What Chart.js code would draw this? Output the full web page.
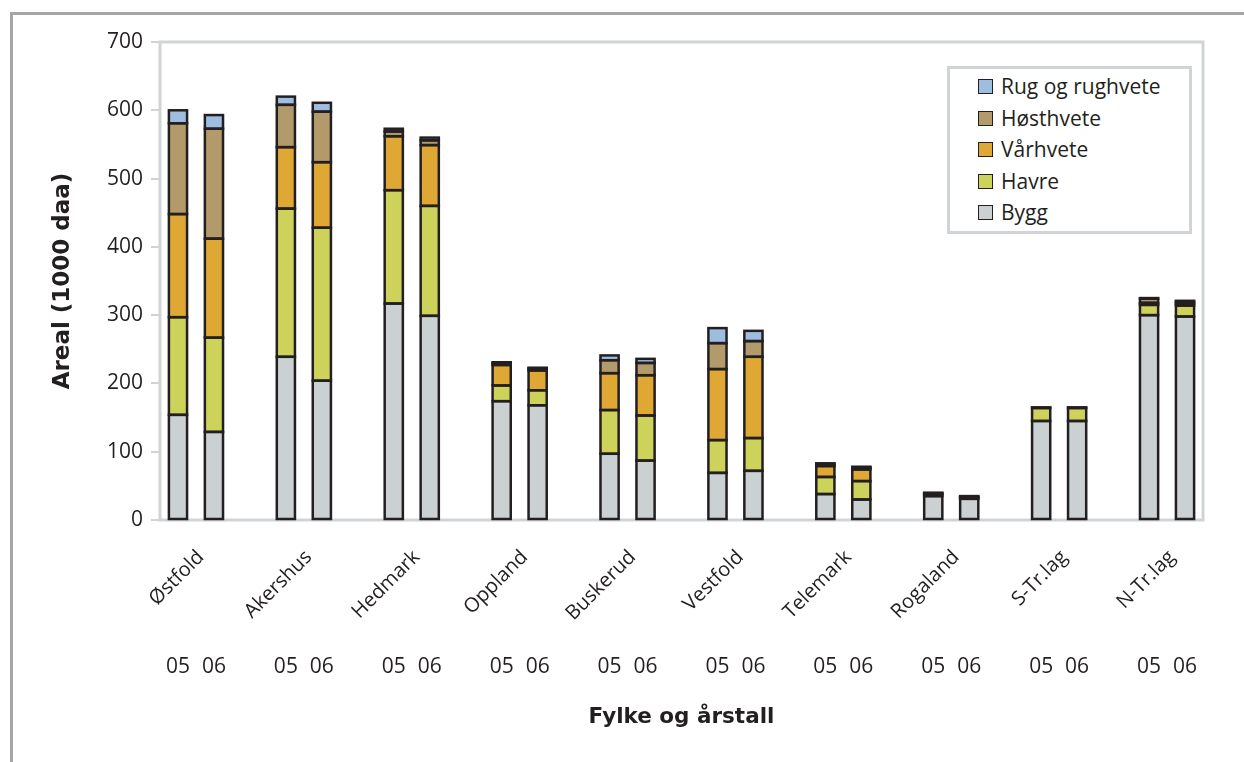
<!DOCTYPE html>
<html lang="no">
<head>
<meta charset="utf-8">
<title>Areal korn per fylke 2005 og 2006</title>
<script src="https://cdn.jsdelivr.net/npm/chart.js@4.4.1/dist/chart.umd.min.js"></script>
<style>
  html, body { margin: 0; padding: 0; background: #ffffff; }
  body { width: 1244px; height: 762px; position: relative; overflow: hidden; font-family: "Open Sans", sans-serif; color: #231f20; }
  #frame { position: absolute; left: 10px; top: 12px; width: 1300px; height: 800px; border: 3px solid #a6a6a6; box-sizing: border-box; }
  #chart { position: absolute; left: 0; top: 0; }
  #legend { position: absolute; left: 947px; top: 66px; width: 245px; height: 168px; border: 3px solid #d0d4d7; box-sizing: border-box; background: #ffffff; padding-top: 2px; }
  .item { height: 31.5px; display: flex; align-items: center; padding-left: 28px; font-size: 21px; line-height: 1; white-space: nowrap; }
  .swatch { width: 15px; height: 15px; box-sizing: border-box; border: 1.5px solid #231f20; margin-right: 8px; flex: none; }
</style>
</head>
<body>
<div id="frame"></div>
<canvas id="chart" width="1244" height="762"></canvas>
<div id="legend"></div>
<script>
// Fylker og årstall (to søyler per fylke)
const counties = ['Østfold', 'Akershus', 'Hedmark', 'Oppland', 'Buskerud', 'Vestfold', 'Telemark', 'Rogaland', 'S-Tr.lag', 'N-Tr.lag'];
const years = ['05', '06'];

// Areal i 1000 daa, parvis per fylke: 2005, 2006
const bygg      = [154, 129, 239, 204, 317, 299, 174, 168,  97,  87,  69,  72,  38,  30,  35,  31, 145, 145, 300, 298];
const havre     = [143, 138, 217, 224, 166, 161,  23,  22,  64,  66,  48,  48,  25,  27,   3,   2,  19,  19,  15,  16];
const varhvete  = [151, 145,  90,  96,  79,  89,  30,  29,  54,  59, 104, 119,  16,  17,   1,   1,   1,   1,   3,   3];
const hosthvete = [133, 161,  62,  74,   7,   7,   3,   3,  19,  18,  38,  23,   3,   3,   1,   1,   0,   0,   6,   3];
const rug       = [ 19,  20,  12,  13,   4,   4,   1,   1,   7,   6,  22,  15,   1,   1,   0,   0,   0,   0,   1,   1];

const yTicks = [0, 100, 200, 300, 400, 500, 600, 700];

const seriesNames  = ['Bygg', 'Havre', 'Vårhvete', 'Høsthvete', 'Rug og rughvete'];
const seriesValues = [bygg, havre, varhvete, hosthvete, rug];
const seriesColors = ['#cbd0d3', '#cdd25a', '#dfa834', '#b39a6b', '#9dbde1'];

const TEXT = '#231f20';
const LINE = '#d0d4d7';
const LABEL_FONT = '20px "Open Sans"';

// Årstallet står under fylkesnavnet: tomme linjer over gir plass til navnet
const yearLabel = y => ['', '', '', '', '', y];

// Kategoriakse: 05, 06 og en tom plass mellom hvert fylke
const labels = [];
counties.forEach((c, i) => {
  years.forEach(y => labels.push(yearLabel(y)));
  if (i < counties.length - 1) labels.push('');
});
const groupSize = years.length + 1;

function spread(values) {
  const out = [];
  counties.forEach((c, i) => {
    years.forEach((y, j) => out.push(values[i * years.length + j]));
    if (i < counties.length - 1) out.push(null);
  });
  return out;
}

const datasets = seriesNames.map((name, k) => ({
  label: name,
  data: spread(seriesValues[k]),
  backgroundColor: seriesColors[k],
  borderWidth: 0,
  barPercentage: 0.505,
  categoryPercentage: 1.0
}));

// Ramme rundt plottområdet
const plotFrame = {
  id: 'plotFrame',
  beforeDatasetsDraw(chart) {
    const { ctx, chartArea: a } = chart;
    ctx.save();
    ctx.strokeStyle = LINE;
    ctx.lineWidth = 3;
    ctx.strokeRect(a.left, a.top, a.right - a.left, a.bottom - a.top);
    ctx.restore();
  }
};

// Mørk kontur rundt hvert segment, strek sentrert på kanten
const segmentOutline = {
  id: 'segmentOutline',
  afterDatasetsDraw(chart) {
    const { ctx } = chart;
    ctx.save();
    ctx.strokeStyle = TEXT;
    ctx.lineWidth = 2.5;
    chart.data.datasets.forEach((ds, d) => {
      const meta = chart.getDatasetMeta(d);
      meta.data.forEach((bar, i) => {
        const v = ds.data[i];
        if (v === null || v === 0) return;
        const { x, y, base, width } = bar.getProps(['x', 'y', 'base', 'width'], true);
        const top = Math.min(y, base);
        ctx.strokeRect(x - width / 2, top, width, Math.abs(base - y));
      });
    });
    ctx.restore();
  }
};

// Fylkesnavn skrått under hvert søylepar
const countyLabels = {
  id: 'countyLabels',
  afterDraw(chart) {
    const { ctx, chartArea: a } = chart;
    const xs = chart.scales.x;
    ctx.save();
    ctx.font = LABEL_FONT;
    ctx.fillStyle = TEXT;
    ctx.textAlign = 'right';
    ctx.textBaseline = 'alphabetic';
    counties.forEach((name, i) => {
      const cx = (xs.getPixelForValue(i * groupSize) + xs.getPixelForValue(i * groupSize + 1)) / 2;
      ctx.save();
      ctx.translate(cx + 9, a.bottom + 38);
      ctx.rotate(-Math.PI / 4);
      ctx.fillText(name, 0, 0);
      ctx.restore();
    });
    ctx.restore();
  }
};

new Chart(document.getElementById('chart'), {
  type: 'bar',
  data: { labels, datasets },
  plugins: [plotFrame, segmentOutline, countyLabels],
  options: {
    responsive: false,
    animation: false,
    layout: { padding: { left: 40, right: 41, top: 42, bottom: 22 } },
    plugins: {
      legend: { display: false },
      tooltip: { enabled: false }
    },
    scales: {
      x: {
        type: 'category',
        position: 'bottom',
        stacked: true,
        offset: true,
        grid: { display: false, drawTicks: false },
        border: { display: false },
        ticks: {
          autoSkip: false, maxRotation: 0, minRotation: 0, padding: 8,
          color: TEXT, font: { family: 'Open Sans', size: 21 }
        },
        title: {
          display: true, text: 'Fylke og årstall', color: TEXT,
          font: { family: 'DejaVu Sans', size: 21.5, weight: 'bold' },
          padding: { top: 0, bottom: 10 }
        },
        afterFit(scale) { scale.height = 220; }
      },
      y: {
        stacked: true,
        min: 0,
        max: 700,
        afterBuildTicks(scale) { scale.ticks = yTicks.map(v => ({ value: v })); },
        grid: { drawOnChartArea: false, drawTicks: true, tickLength: 9, color: LINE, lineWidth: 2 },
        border: { display: false },
        ticks: { padding: 8, color: TEXT, font: { family: 'Open Sans', size: 21 } },
        title: {
          display: true, text: 'Areal (1000 daa)', color: TEXT,
          font: { family: 'DejaVu Sans', size: 23, weight: 'bold' },
          padding: { top: 9, bottom: 0 }
        },
        afterFit(scale) { scale.width = 120; }
      }
    }
  }
});

// Tegnforklaring, øverste serie først
const legend = document.getElementById('legend');
for (let k = seriesNames.length - 1; k >= 0; k--) {
  const row = document.createElement('div');
  row.className = 'item';
  const sw = document.createElement('span');
  sw.className = 'swatch';
  sw.style.background = seriesColors[k];
  const tx = document.createElement('span');
  tx.textContent = seriesNames[k];
  row.appendChild(sw);
  row.appendChild(tx);
  legend.appendChild(row);
}
</script>
</body>
</html>
